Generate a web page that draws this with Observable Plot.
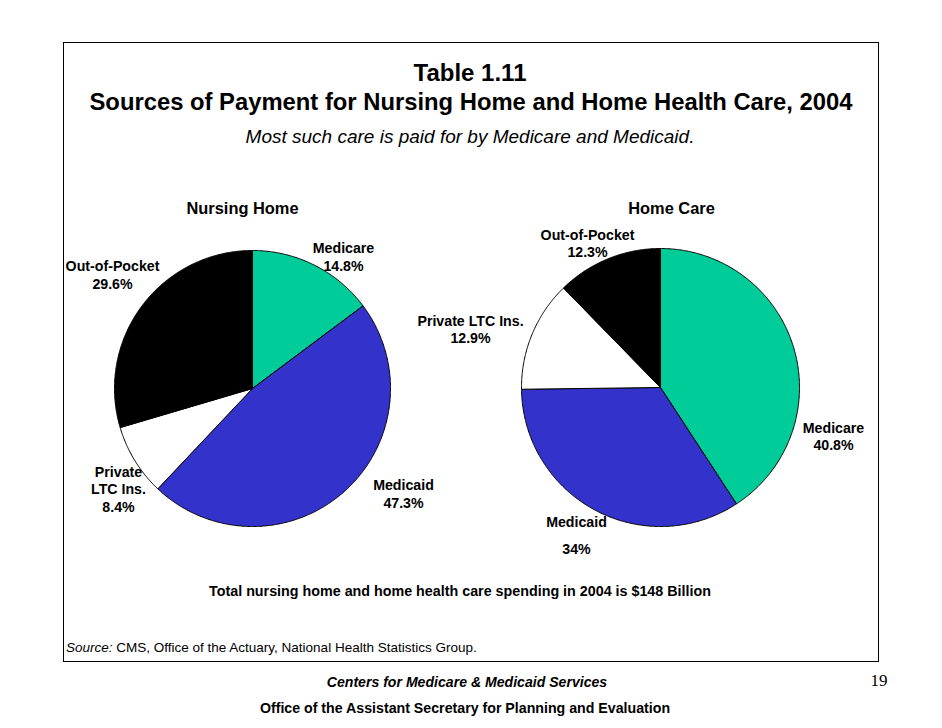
<!DOCTYPE html>
<html><head><meta charset="utf-8">
<script src="https://cdn.jsdelivr.net/npm/d3@7"></script>
<script src="https://cdn.jsdelivr.net/npm/@observablehq/plot@0.6"></script>
<style>
html,body{margin:0;padding:0;background:#fff;}
#page{position:relative;width:942px;height:728px;font-family:"Liberation Sans",Arial,Helvetica,sans-serif;color:#000;overflow:hidden;background:#fff}
.t{position:absolute;white-space:nowrap;line-height:1;transform:translate(-50%,-50%)}
#box{position:absolute;left:63px;top:42px;width:814px;height:618px;border:1px solid #000;pointer-events:none}
#chart{position:absolute;left:0;top:190px}
</style></head><body>
<div id="page">
  <div id="chart"></div>
  <div class="t" style="left:470px;top:73px;font-size:24px;font-weight:bold">Table 1.11</div>
  <div class="t" style="left:471px;top:102px;font-size:23.8px;font-weight:bold">Sources of Payment for Nursing Home and Home Health Care, 2004</div>
  <div class="t" style="left:470px;top:136px;font-size:19px;font-style:italic">Most such care is paid for by Medicare and Medicaid.</div>
  <div class="t" style="left:460px;top:591px;font-size:14.3px;font-weight:bold">Total nursing home and home health care spending in 2004 is $148 Billion</div>
  <div class="t" style="left:66px;top:648px;font-size:13.5px;transform:translate(0,-50%)"><i>Source:</i> CMS, Office of the Actuary, National Health Statistics Group.</div>
  <div class="t" style="left:467px;top:682px;font-size:14.1px;font-weight:bold;font-style:italic">Centers for Medicare &amp; Medicaid Services</div>
  <div class="t" style="left:465px;top:708px;font-size:14.2px;font-weight:bold">Office of the Assistant Secretary for Planning and Evaluation</div>
  <div class="t" style="left:879px;top:680px;font-size:17px;font-family:'Liberation Serif','DejaVu Serif',serif">19</div>
  <div id="box"></div>
</div>
<script>
// ---- data ----
const sources = ["Medicare", "Medicaid", "Private LTC Ins.", "Out-of-Pocket"];
const nursingHome = [14.8, 47.3, 8.4, 29.6];
const homeCare = [40.8, 34, 12.9, 12.3];
const chartTitles = ["Nursing Home", "Home Care"];
const sliceColors = ["#00cc99", "#3333cc", "#ffffff", "#000000"];

// ---- layout (pixel space of the page) ----
const pies = [
  {title: chartTitles[0], values: nursingHome, cx: 252, cy: 388, r: 138, tx: 242, ty: 208},
  {title: chartTitles[1], values: homeCare, cx: 660, cy: 387, r: 139, tx: 671, ty: 208}
];
const labelLayout = [
  // nursing home
  [{name: "Medicare", x: 343, y: 256}, {name: "Medicaid", x: 403, y: 493},
   {name: "Private\nLTC Ins.", x: 118, y: 488}, {name: "Out-of-Pocket", x: 112, y: 274}],
  // home care
  [{name: "Medicare", x: 833, y: 435.5}, {name: "Medicaid\n", x: 576, y: 535.5, gap: true},
   {name: "Private LTC Ins.", x: 470, y: 328.5}, {name: "Out-of-Pocket", x: 587, y: 242.5}]
];

// ---- geometry built from the values ----
const pieGen = d3.pie().sort(null).value(d => d.value).startAngle(0).endAngle(2 * Math.PI);
const slicePts = [];
const labels = [];
const labelsGap = [];
pies.forEach((p, pi) => {
  const arcs = pieGen(sources.map((s, i) => ({source: s, value: p.values[i]})));
  arcs.forEach((a, i) => {
    const key = pi + "-" + i;
    slicePts.push({key, source: a.data.source, x: p.cx, y: p.cy});
    const n = Math.max(2, Math.ceil((a.endAngle - a.startAngle) / (Math.PI / 360)));
    for (let k = 0; k <= n; k++) {
      const t = a.startAngle + (a.endAngle - a.startAngle) * k / n;
      slicePts.push({key, source: a.data.source, x: p.cx + p.r * Math.sin(t), y: p.cy - p.r * Math.cos(t)});
    }
    slicePts.push({key, source: a.data.source, x: p.cx, y: p.cy});
    const L = labelLayout[pi][i];
    const rec = {x: L.x, y: L.y, text: L.name + "\n" + p.values[i] + "%"};
    (L.gap ? labelsGap : labels).push(rec);
  });
});

const font = "Liberation Sans, Arial, Helvetica, sans-serif";
const chart = Plot.plot({
  width: 942, height: 370, margin: 0,
  x: {domain: [0, 942], range: [0, 942], axis: null},
  y: {domain: [190, 560], range: [0, 370], axis: null},
  color: {domain: sources, range: sliceColors},
  style: {background: "transparent", fontFamily: font},
  marks: [
    Plot.line(slicePts, {x: "x", y: "y", z: "key", fill: "source", stroke: "#000", strokeWidth: 1, strokeLinejoin: "round"}),
    Plot.text(pies, {x: "tx", y: "ty", text: "title", fontSize: 16.4, fontWeight: "bold", fill: "#000"}),
    Plot.text(labels, {x: "x", y: "y", text: "text", fontSize: 14.2, fontWeight: "bold", lineHeight: 1.24, fill: "#000"}),
    Plot.text(labelsGap, {x: "x", y: "y", text: "text", fontSize: 14.2, fontWeight: "bold", lineHeight: 0.95, fill: "#000"})
  ]
});
document.getElementById("chart").appendChild(chart);
</script>
</body></html>
